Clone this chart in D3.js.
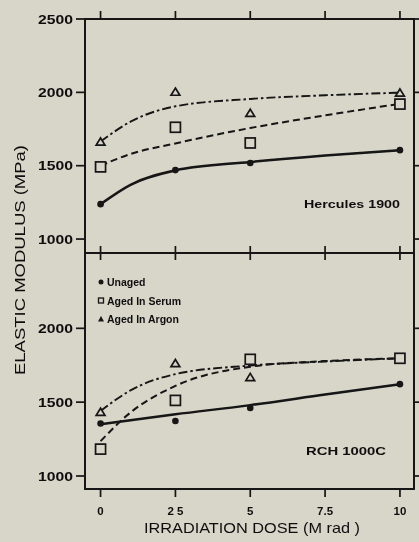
<!DOCTYPE html>
<html>
<head>
<meta charset="utf-8">
<script src="https://cdn.jsdelivr.net/npm/d3@7"></script>
<style>
  html, body { margin: 0; padding: 0; background: #d8d6c9; }
  svg { display: block; }
  text { font-family: "Liberation Sans", Arial, sans-serif; fill: #101010; }
</style>
</head>
<body>
<svg id="chart" width="419" height="542"></svg>
<script>
// Irradiation dose (M rad) at which specimens were tested
const doses = [0, 2.5, 5, 10];
const xTicks = [0, 2.5, 5, 7.5, 10];
const xTickLabels = ["0", "2 5", "5", "7.5", "10"];

// Hercules 1900 — measured elastic modulus (MPa)
const hercUnaged = [1238, 1470, 1518, 1606];
const hercSerum  = [1492, 1762, 1655, 1920];
const hercArgon  = [1662, 2002, 1858, 1996];

// RCH 1000C — measured elastic modulus (MPa)
const rchUnaged = [1356, 1372, 1460, 1622];
const rchSerum  = [1182, 1512, 1790, 1797];
const rchArgonDoses = [0, 2.5, 5];
const rchArgon  = [1432, 1762, 1668];

// Fitted trend curves, sampled at these doses
const fitDoses = [0, 1, 2.5, 5, 7.5, 10];
const hercUnagedFit = [1238, 1370, 1468, 1525, 1570, 1606];
const hercSerumFit  = [1500, 1580, 1652, 1757, 1843, 1922];
const hercArgonFit  = [1665, 1800, 1905, 1955, 1980, 1998];
const rchUnagedFit  = [1350, 1378, 1418, 1480, 1552, 1622];
const rchSerumFit   = [1236, 1430, 1610, 1740, 1778, 1797];
const rchArgonFit   = [1440, 1580, 1690, 1748, 1775, 1797];

const yTicksTop = [1000, 1500, 2000, 2500];
const yTicksBottom = [1000, 1500, 2000];

const legendLabels = ["Unaged", "Aged In Serum", "Aged In Argon"];
const panelNames = ["Hercules 1900", "RCH 1000C"];

const svg = d3.select("#chart");
const ink = "#141414";
const paper = "#d8d6c9";

const frameLeft = 85, frameRight = 414;
const x = d3.scaleLinear().domain([-0.52, 10.47]).range([frameLeft, frameRight]);
const yTop = d3.scaleLinear().domain([905, 2500]).range([253, 19]);
const yBot = d3.scaleLinear().domain([912, 2510]).range([489, 253]);

// soft scan-like edges
const defs = svg.append("defs");
defs.append("filter").attr("id", "soft")
  .append("feGaussianBlur").attr("stdDeviation", 0.35);

const g = svg.append("g").attr("filter", "url(#soft)");

// frame
g.append("rect")
  .attr("x", frameLeft).attr("y", yTop(2500))
  .attr("width", frameRight - frameLeft).attr("height", yBot(912) - yTop(2500))
  .attr("fill", "none").attr("stroke", ink).attr("stroke-width", 2);
g.append("line")
  .attr("x1", frameLeft).attr("x2", frameRight)
  .attr("y1", 253).attr("y2", 253)
  .attr("stroke", ink).attr("stroke-width", 2);

// x ticks: top (outward), middle (crossing), bottom (outward)
xTicks.forEach(v => {
  const px = x(v);
  g.append("line").attr("x1", px).attr("x2", px).attr("y1", 19).attr("y2", 11)
    .attr("stroke", ink).attr("stroke-width", 1.7);
  g.append("line").attr("x1", px).attr("x2", px).attr("y1", 246).attr("y2", 260)
    .attr("stroke", ink).attr("stroke-width", 1.7);
  g.append("line").attr("x1", px).attr("x2", px).attr("y1", 489).attr("y2", 497)
    .attr("stroke", ink).attr("stroke-width", 1.7);
});

// x tick labels
g.selectAll(".xlab").data(xTicks).join("text")
  .attr("class", "xlab")
  .attr("x", d => x(d)).attr("y", 515)
  .attr("text-anchor", "middle")
  .attr("font-size", 11.5).attr("font-weight", "bold")
  .attr("fill", ink)
  .text((d, i) => xTickLabels[i]);

// y axes with outward ticks on both sides
function yAxis(scale, ticks) {
  ticks.forEach(v => {
    const py = scale(v);
    g.append("line").attr("x1", frameLeft).attr("x2", frameLeft - 9).attr("y1", py).attr("y2", py)
      .attr("stroke", ink).attr("stroke-width", 1.7);
    g.append("line").attr("x1", frameRight).attr("x2", frameRight + 5).attr("y1", py).attr("y2", py)
      .attr("stroke", ink).attr("stroke-width", 1.7);
    g.append("text")
      .attr("x", frameLeft - 12).attr("y", py + 4.5)
      .attr("text-anchor", "end")
      .attr("font-size", 12).attr("font-weight", "bold")
      .attr("fill", ink)
      .attr("textLength", 35).attr("lengthAdjust", "spacingAndGlyphs")
      .text(v);
  });
}
yAxis(yTop, yTicksTop);
yAxis(yBot, yTicksBottom);

// axis titles
g.append("text")
  .attr("x", 252).attr("y", 533)
  .attr("text-anchor", "middle")
  .attr("font-size", 14.5)
  .attr("fill", ink)
  .attr("textLength", 216).attr("lengthAdjust", "spacingAndGlyphs")
  .text("IRRADIATION DOSE (M rad )");
g.append("text")
  .attr("transform", "translate(25,260) rotate(-90)")
  .attr("text-anchor", "middle")
  .attr("font-size", 14.5)
  .attr("fill", ink)
  .attr("textLength", 230).attr("lengthAdjust", "spacingAndGlyphs")
  .text("ELASTIC MODULUS (MPa)");

// line styles per series
const styles = [
  { width: 2.5, dash: null },
  { width: 2, dash: "7,4" },
  { width: 1.9, dash: "9,3,2.5,3" }
];

function drawFits(scale, fits) {
  const line = d3.line()
    .x((d, i) => x(fitDoses[i]))
    .y(d => scale(d))
    .curve(d3.curveMonotoneX);
  fits.forEach((f, k) => {
    g.append("path")
      .attr("d", line(f))
      .attr("fill", "none")
      .attr("stroke", ink)
      .attr("stroke-width", styles[k].width)
      .attr("stroke-dasharray", styles[k].dash);
  });
}

function marker(kind, cx, cy) {
  if (kind === 0) {
    g.append("circle").attr("cx", cx).attr("cy", cy).attr("r", 3.3).attr("fill", ink);
  } else if (kind === 1) {
    const h = 5;
    g.append("rect").attr("x", cx - h).attr("y", cy - h).attr("width", 2 * h).attr("height", 2 * h)
      .attr("fill", paper).attr("stroke", ink).attr("stroke-width", 1.7);
  } else {
    const h = 4;
    g.append("path")
      .attr("d", `M${cx},${cy - h}L${cx + h * 1.1},${cy + h * 0.8}L${cx - h * 1.1},${cy + h * 0.8}Z`)
      .attr("fill", paper).attr("stroke", ink).attr("stroke-width", 1.7);
  }
}

function drawPoints(scale, xs, vals, kind) {
  vals.forEach((v, i) => marker(kind, x(xs[i]), scale(v)));
}

// top panel
drawFits(yTop, [hercUnagedFit, hercSerumFit, hercArgonFit]);
drawPoints(yTop, doses, hercUnaged, 0);
drawPoints(yTop, doses, hercSerum, 1);
drawPoints(yTop, doses, hercArgon, 2);

// bottom panel
drawFits(yBot, [rchUnagedFit, rchSerumFit, rchArgonFit]);
drawPoints(yBot, doses, rchUnaged, 0);
drawPoints(yBot, doses, rchSerum, 1);
drawPoints(yBot, rchArgonDoses, rchArgon, 2);

// panel names
g.append("text").attr("x", 400).attr("y", 208).attr("text-anchor", "end")
  .attr("font-size", 11).attr("font-weight", "bold").attr("fill", ink)
  .attr("textLength", 96).attr("lengthAdjust", "spacingAndGlyphs")
  .text(panelNames[0]);
g.append("text").attr("x", 386).attr("y", 455).attr("text-anchor", "end")
  .attr("font-size", 11).attr("font-weight", "bold").attr("fill", ink)
  .attr("textLength", 80).attr("lengthAdjust", "spacingAndGlyphs")
  .text(panelNames[1]);

// legend
legendLabels.forEach((lab, i) => {
  const ly = 282 + i * 18.5;
  if (i === 0) {
    g.append("circle").attr("cx", 101).attr("cy", ly).attr("r", 2.5).attr("fill", ink);
  } else if (i === 1) {
    g.append("rect").attr("x", 98.5).attr("y", ly - 2.5).attr("width", 5).attr("height", 5)
      .attr("fill", "none").attr("stroke", ink).attr("stroke-width", 1.3);
  } else {
    g.append("path").attr("d", `M101,${ly - 3}L104,${ly + 2.5}L98,${ly + 2.5}Z`).attr("fill", ink);
  }
  g.append("text").attr("x", 107).attr("y", ly + 4)
    .attr("font-size", 10.5).attr("font-weight", "bold").attr("fill", ink)
    .text(lab);
});
</script>
</body>
</html>
